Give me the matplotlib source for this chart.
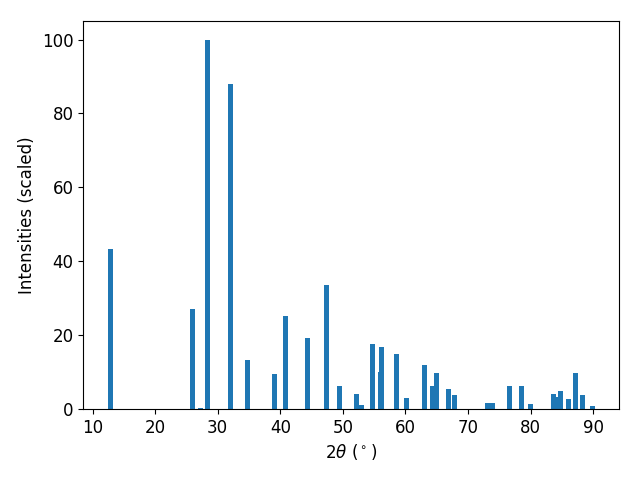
import numpy as np
import matplotlib.pyplot as plt

plt.rcParams['font.size'] = 12

# peak positions (2theta, degrees) and scaled intensities
two_theta = [12.8, 25.9, 27.2, 28.3, 32.0, 34.7, 39.1, 40.9, 44.4, 47.4,
             49.4, 52.1, 53.0, 54.8, 56.0, 56.2, 58.5, 60.1, 63.1, 64.3,
             65.0, 66.9, 67.9, 73.1, 73.9, 76.6, 78.5, 79.9, 83.7, 84.1,
             84.8, 86.1, 87.1, 88.3, 89.8]
intensity = [43.4, 27.1, 0.3, 100.0, 88.1, 13.3, 9.5, 25.2, 19.2, 33.6,
             6.2, 4.1, 1.1, 17.6, 10.0, 16.8, 14.9, 3.0, 11.9, 6.2,
             9.8, 5.4, 3.8, 1.6, 1.6, 6.2, 6.2, 1.4, 4.1, 3.3,
             4.9, 2.7, 9.8, 3.8, 0.8]

fig, ax = plt.subplots(figsize=(6.4, 4.8), dpi=100)
ax.bar(two_theta, intensity, width=0.8)
ax.set_xlabel(r'$2\theta$ ($^\circ$)')
ax.set_ylabel('Intensities (scaled)')
fig.subplots_adjust(left=0.13, right=0.967, top=0.956, bottom=0.148)
fig.savefig('out.png')
